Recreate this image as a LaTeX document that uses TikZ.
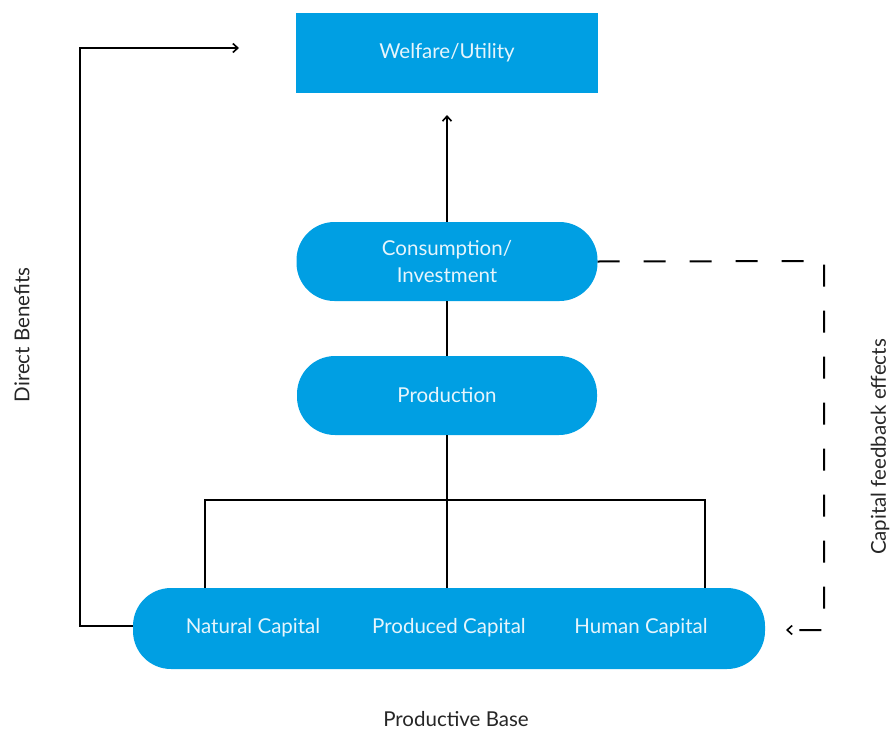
\documentclass[tikz,border=0pt]{standalone}
\usepackage{fontspec}
\setmainfont{Lato}
\usetikzlibrary{arrows.meta}
\definecolor{boxblue}{HTML}{009FE3}
\definecolor{boxtext}{HTML}{E6F5FC}
\begin{document}
\begin{tikzpicture}[x=1pt,y=-1pt,
  bluebox/.style={fill=boxblue,draw=none,text=boxtext,font=\fontsize{20.5}{27}\selectfont,align=center,inner sep=0pt},
  roundbox/.style={bluebox,rounded corners=38pt},
  captext/.style={text=boxtext,font=\fontsize{20.5}{25}\selectfont},
  conn/.style={line width=2pt,draw=black},
  arr/.style={conn,-{Straight Barb[length=5pt,width=9pt,line width=1.6pt]}},
  lbl/.style={font=\fontsize{20.5}{25}\selectfont,text=black!85,inner sep=1pt}]
\useasboundingbox (0,0) rectangle (892,731);
\node[bluebox,minimum width=302pt,minimum height=80pt] (welfare) at (447,53) {Welfare/Utility};
\node[roundbox,minimum width=301pt,minimum height=79pt] (cons) at (447,261.5) {Consumption/\\Investment};
\node[roundbox,minimum width=300pt,minimum height=79pt] (prod) at (447,395.5) {Production};
\node[roundbox,minimum width=632pt,minimum height=81pt] (base) at (449,628.5) {};
\node[captext] (nat) at (253,628) {Natural Capital};
\node[captext] (prc) at (449,628) {Produced Capital};
\node[captext] (hum) at (641,628) {Human Capital};
\coordinate (wtip) at (447,115);
\coordinate (dtip) at (239,48);
\coordinate (ftip) at (786,630);
\coordinate (bj) at (447,588);
\draw[arr] (cons.north) -- (wtip);
\draw[conn] (cons.south) -- (prod.north);
\draw[conn] (prod.south) -- (bj);
\draw[conn] (205,588) -- (205,500) -- (705,500) -- (705,588);
\draw[arr] (base.west |- 0,626) -- (80,626) -- (80,48) -- (dtip);
\draw[arr,dash pattern=on 22pt off 24pt] (cons.east) -- (824,261) -- (824,630) -- (ftip);
\node[lbl,rotate=90] (db) at (22,335) {Direct Benefits};
\node[lbl,rotate=90] (cf) at (880,447) {Capital feedback effects};
\node[lbl] (pb) at (456,719) {Productive Base};
\end{tikzpicture}
\end{document}
